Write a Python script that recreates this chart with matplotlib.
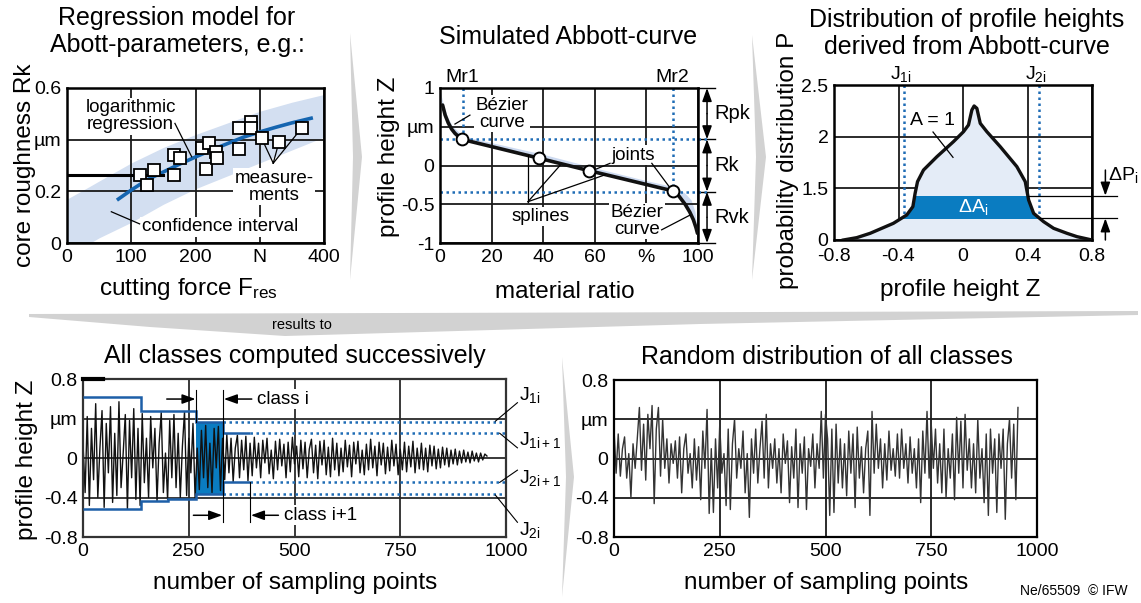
import numpy as np
import matplotlib
matplotlib.use("Agg")
import matplotlib.pyplot as plt
from matplotlib.patches import Polygon, Rectangle

plt.rcParams["font.family"] = ["Liberation Sans", "DejaVu Sans"]
plt.rcParams["mathtext.fontset"] = "custom"
plt.rcParams["mathtext.rm"] = "Liberation Sans"
plt.rcParams["mathtext.it"] = "Liberation Sans:italic"

W, H = 1141, 603
BLUE = "#1f6cb5"
FILLBLUE = "#0a7cc1"
WHITE = dict(fc="white", ec="none", pad=1.0)

# ---- panel 1: regression model Rk(F)
force_meas = [114, 124, 135, 166, 166, 176, 210, 221, 217, 232, 233, 267, 268, 287, 287, 303, 330, 365]
rk_meas = [0.263, 0.225, 0.283, 0.263, 0.341, 0.328, 0.367, 0.388, 0.285, 0.353, 0.328,
           0.444, 0.363, 0.47, 0.444, 0.405, 0.392, 0.444]
force_fit = [80, 100, 125, 150, 175, 200, 225, 250, 275, 300, 325, 350, 380]
rk_fit = [0.17, 0.205, 0.245, 0.275, 0.305, 0.333, 0.36, 0.385, 0.41, 0.43, 0.448, 0.465, 0.483]
force_band = [0, 36, 50, 100, 150, 200, 250, 300, 350, 400]
rk_band_hi = [0.17, 0.22, 0.24, 0.31, 0.37, 0.42, 0.465, 0.51, 0.545, 0.575]
rk_band_lo = [0.0, 0.0, 0.02, 0.08, 0.15, 0.21, 0.26, 0.31, 0.36, 0.41]
force_set, rk_set = 150, 0.263
f_ticks = [0, 100, 200, 300, 400]
f_labels = ["0", "100", "200", "N", "400"]
rk_ticks = [0, 0.2, 0.4, 0.6]
rk_labels = ["0", "0.2", "µm", "0.6"]

# ---- panel 2: simulated Abbott curve
ratio_curve = [1.0, 2.0, 3.2, 4.5, 5.8, 7.3, 8.4, 20, 38.5, 57.8, 75, 90.4, 92.5, 95, 96.8, 98.2, 99.2, 99.8]
z_curve = [0.78, 0.65, 0.55, 0.47, 0.415, 0.37, 0.338, 0.244, 0.093, -0.067, -0.205, -0.329,
           -0.39, -0.5, -0.6, -0.7, -0.8, -0.875]
ratio_meas = [0, 0.5, 1.5, 3, 5, 8, 12, 20, 40, 60, 80, 88, 92, 95, 97.5, 99, 99.7, 100]
z_meas = [1.0, 0.92, 0.78, 0.63, 0.5, 0.41, 0.35, 0.29, 0.14, -0.035, -0.2, -0.26, -0.3,
          -0.36, -0.45, -0.6, -0.8, -1.0]
ratio_joints = [8.4, 38.5, 57.8, 90.4]
z_joints = [0.338, 0.093, -0.067, -0.329]
mr1, mr2 = 8.8, 90.2
rk_top, rk_bot = 0.338, -0.338
ratio_ticks = [0, 20, 40, 60, 80, 100]
ratio_labels = ["0", "20", "40", "60", "%", "100"]
z_ticks = [-1, -0.5, 0, 0.5, 1]
z_labels = ["-1", "-0.5", "0", "µm", "1"]

# ---- panel 3: distribution of profile heights
height_z = [-0.742, -0.659, -0.576, -0.432, -0.349, -0.311, -0.297, -0.282, -0.245, -0.162, -0.059,
            0.003, 0.034, 0.055, 0.069, 0.086, 0.107, 0.148, 0.231, 0.334, 0.386, 0.407, 0.438,
            0.5, 0.562, 0.645, 0.707, 0.8]
prob_p = [0, 0.068, 0.194, 0.484, 0.726, 0.968, 1.355, 1.565, 1.677, 1.806, 1.952, 2.048, 2.113,
          2.258, 2.297, 2.274, 2.129, 2.048, 1.903, 1.71, 1.565, 1.161, 0.774, 0.532, 0.339,
          0.194, 0.097, 0]
j1i, j2i = -0.363, 0.471
band_lo, band_hi = 0.629, 1.287
hz_ticks = [-0.8, -0.4, 0, 0.4, 0.8]
hz_labels = ["-0.8", "-0.4", "0", "0.4", "0.8"]
p_ticks = [0, 1.5, 2, 2.5]

# ---- panel 4: classes computed successively (step 5 sampling points)
profile_classes = [
    0.15, -0.35, 0.42, -0.48, 0.30, -0.22, 0.55, -0.40, 0.10, 0.48, -0.50, 0.35, -0.15, 0.52,
    -0.45, 0.25, -0.38, 0.57, -0.30, 0.05, 0.44, -0.52, 0.38, -0.20, 0.50, -0.42, 0.30,
    -0.48, 0.45, -0.25, 0.20, -0.40, 0.42, -0.10, 0.30, -0.44, 0.15, 0.46, -0.35, 0.05, -0.42,
    0.38, -0.20, 0.44, -0.30, 0.25, -0.40, 0.12, 0.47, -0.38, 0.20, -0.15, 0.35, -0.41,
    0.10, -0.32, 0.28, -0.20, 0.33, -0.30, 0.15, -0.35, 0.30, -0.10, 0.32, -0.33, 0.20,
    -0.22, 0.24, -0.15, 0.20, -0.24, 0.10, 0.23, -0.20, 0.18, -0.12, 0.22, -0.23, 0.15,
    -0.18, 0.21, -0.10, 0.15, -0.20, 0.18, -0.05, 0.20, -0.16, 0.08, -0.21, 0.17, -0.12, 0.19,
    -0.08, 0.14, -0.20, 0.16, -0.14, 0.21, -0.06, 0.12, -0.19, 0.18, -0.11, 0.16, -0.20, 0.09,
    0.19, -0.15, 0.13, -0.21, 0.17, -0.07, 0.18, -0.17, 0.11, -0.19, 0.20, -0.12,
    0.15, -0.18, 0.10, -0.14, 0.18, -0.09, 0.13, -0.19, 0.16, -0.06, 0.17, -0.15, 0.08, -0.17,
    0.14, -0.12, 0.19, -0.10, 0.12, -0.18, 0.16, -0.07, 0.15, -0.16, 0.11, -0.13, 0.18, -0.08,
    0.14, -0.17, 0.09, -0.12, 0.16, -0.14, 0.12, -0.09, 0.17, -0.15, 0.10, -0.11,
    0.15, -0.12, 0.10, -0.14, 0.13, -0.08, 0.12, -0.11, 0.09, -0.10, 0.11, -0.07, 0.10, -0.09,
    0.08, -0.06, 0.09, -0.07, 0.07, -0.05, 0.08, -0.04, 0.06, -0.05, 0.07, -0.03, 0.05, -0.04,
    0.05, -0.02, 0.04, 0.02,
]
class_edges = [0, 137, 202, 268, 331, 395]
class_top = [0.617, 0.481, 0.481, 0.363, 0.251]
class_bot = [-0.519, -0.434, -0.417, -0.366, -0.247]
j1, j1_next, j2_next, j2 = 0.363, 0.251, -0.247, -0.366
s_ticks = [0, 250, 500, 750, 1000]
zz_ticks = [-0.8, -0.4, 0, 0.4, 0.8]
zz_labels = ["-0.8", "-0.4", "0", "µm", "0.8"]

# ---- panel 5: random distribution of all classes
profile_random = [
    0.30, -0.15, 0.25, -0.18, 0.10, 0.22, -0.20, 0.05, -0.40, 0.15, -0.10, 0.20, 0.52, -0.12,
    0.35, -0.22, 0.45, 0.10, 0.54, -0.46, 0.30, 0.52, -0.18, 0.40,
    -0.10, 0.20, -0.25, 0.15, -0.05, 0.18, -0.20, 0.22, -0.35, 0.10, 0.25, -0.15, 0.05, -0.30,
    0.20, -0.22, 0.12, -0.42, 0.28, -0.10, 0.50, -0.56, 0.10, -0.55,
    0.20, -0.30, 0.35, -0.15, 0.05, -0.48, 0.30, -0.52, 0.15, 0.40, -0.20, 0.10, -0.10, 0.28,
    -0.35, 0.05, -0.60, 0.20, -0.15, 0.30, -0.25, 0.10, 0.38, -0.20,
    0.45, -0.30, 0.15, -0.10, 0.20, -0.25, 0.10, -0.35, 0.25, -0.05, 0.18, -0.45, 0.12, -0.20,
    0.30, -0.50, 0.15, -0.15, 0.22, -0.52, 0.10, -0.08, 0.25, -0.30,
    0.15, -0.10, 0.48, -0.20, 0.45, 0.20, -0.58, 0.30, -0.55, 0.35, -0.25, 0.20, -0.30, 0.15,
    -0.38, 0.28, -0.15, 0.25, -0.50, 0.32, -0.20, 0.12, -0.35, 0.10,
    0.28, -0.58, 0.48, -0.15, 0.35, -0.10, 0.20, -0.30, 0.15, -0.22, 0.28, -0.12, 0.10, -0.18,
    0.25, -0.20, 0.30, -0.10, 0.15, -0.25, 0.22, -0.15, 0.10, -0.30,
    0.20, -0.45, 0.28, -0.15, 0.48, -0.20, 0.35, -0.10, 0.30, -0.25, 0.15, -0.35, 0.30, -0.40,
    0.10, -0.20, 0.25, -0.42, 0.42, -0.15, 0.38, -0.30, 0.45, -0.12,
    0.20, -0.30, 0.15, -0.35, 0.40, -0.20, 0.10, -0.45, 0.25, -0.58, 0.30, -0.15, 0.20, -0.55,
    0.25, -0.10, 0.30, -0.62, 0.15, 0.40, -0.20, 0.35, -0.42, 0.52,
]
SAMPLE_STEP = 5


def box(x0, y0, x1, y1):
    return [x0 / W, 1 - y1 / H, (x1 - x0) / W, (y1 - y0) / H]


def ftext(x, y, s, **kw):
    kw.setdefault("ha", "center")
    kw.setdefault("va", "center")
    fig.text(x / W, 1 - y / H, s, **kw)


def style(ax, lw=1.8, grid="#1a1a1a"):
    for sp in ax.spines.values():
        sp.set_linewidth(lw)
    ax.tick_params(length=0, labelsize=14, pad=4)
    ax.grid(True, color=grid, lw=1.3)
    ax.set_axisbelow(True)


def arrow(ax, start, end, **kw):
    props = dict(arrowstyle="-|>,head_length=0.5,head_width=0.18", color="k", lw=1.1,
                 shrinkA=0, shrinkB=0, mutation_scale=16)
    props.update(kw)
    ax.annotate("", xy=end, xytext=start, arrowprops=props, annotation_clip=False, zorder=6)


fig = plt.figure(figsize=(W / 100, H / 100), dpi=100)

# background chevrons / band
ov = fig.add_axes([0, 0, 1, 1], zorder=-1)
ov.set_xlim(0, W)
ov.set_ylim(H, 0)
ov.axis("off")
for pts in ([(350, 33), (362, 157), (350, 280), (353, 157)],
            [(752, 35), (766, 157), (752, 280), (756, 157)],
            [(562, 357), (574, 477), (562, 597), (566, 477)],
            [(29, 314), (1138, 311), (1138, 315), (700, 324), (285, 336), (150, 327), (29, 317)]):
    ov.add_patch(Polygon(pts, closed=True, fc="#d2d2d2", ec="none"))
ftext(302, 325, "results to", fontsize=10.5)

# ---------------- panel 1
ax1 = fig.add_axes(box(67, 88, 324, 243))
ax1.fill_between(force_band, rk_band_lo, rk_band_hi, color="#d3dff1", lw=0, zorder=0.2)
ax1.plot(force_fit, rk_fit, color="#1565b0", lw=2.6, zorder=3)
ax1.plot([0, force_set], [rk_set, rk_set], color="k", lw=2.2, zorder=3)
ax1.plot(force_meas, rk_meas, "s", ms=8.5, mfc="white", mec="k", mew=1.3, zorder=5)
ax1.set_xlim(0, 400)
ax1.set_ylim(0, 0.6)
ax1.set_xticks(f_ticks, f_labels)
ax1.set_yticks(rk_ticks, rk_labels)
style(ax1)
ax1.text(99, 0.49, "logarithmic\nregression", ha="center", va="center", fontsize=13.5,
         linespacing=1.0, bbox=WHITE, zorder=4)
ax1.plot([168, 194], [0.463, 0.334], color="k", lw=0.9, zorder=4)
ax1.text(322, 0.218, "measure-\nments", ha="center", va="center", fontsize=13.5,
         linespacing=1.0, bbox=WHITE, zorder=4)
for k in (15, 16, 17):
    ax1.plot([321, force_meas[k]], [0.309, rk_meas[k]], color="k", lw=0.9, zorder=4)
ax1.text(238, 0.063, "confidence interval", ha="center", va="center", fontsize=13.5,
         bbox=WHITE, zorder=4)
ax1.plot([113, 69], [0.074, 0.121], color="k", lw=0.9, zorder=4)
ftext(177, 18, "Regression model for", fontsize=18)
ftext(177, 45, "Abott-parameters, e.g.:", fontsize=18)
ftext(25, 165, "core roughness Rk", fontsize=17.5, rotation=90)
ftext(188, 289, r"cutting force F$_\mathrm{res}$", fontsize=17.5)

# ---------------- panel 2
ax2 = fig.add_axes(box(440, 88, 698, 243))
shade = list(zip(ratio_meas, z_meas)) + list(zip(ratio_curve[::-1], z_curve[::-1]))
ax2.add_patch(Polygon(shade, closed=True, fc="#cddaf0", ec="none", zorder=0.2))
ax2.plot(ratio_curve, z_curve, color="#111111", lw=2.6, solid_capstyle="round", zorder=3)
ax2.plot(ratio_joints, z_joints, "o", ms=8.5, mfc="white", mec="k", mew=1.4, zorder=5)
dots = dict(color=BLUE, lw=1.8, ls=(0, (1, 1.4)), zorder=2.5)
ax2.plot([mr1, mr1], [1, rk_top], **dots)
ax2.plot([mr2, mr2], [1, rk_bot], **dots)
ax2.plot([0, 103.5], [rk_top, rk_top], clip_on=False, **dots)
ax2.plot([0, 103.5], [rk_bot, rk_bot], clip_on=False, **dots)
ax2.set_xlim(0, 100)
ax2.set_ylim(-1, 1)
ax2.set_xticks(ratio_ticks, ratio_labels)
ax2.set_yticks(z_ticks, z_labels)
style(ax2)
for zl in (1, rk_top, rk_bot, -1):
    ax2.plot([100.5, 106.5], [zl, zl], color="k", lw=1.0, clip_on=False)
for a, b, lab in ((1, rk_top, "Rpk"), (rk_top, rk_bot, "Rk"), (rk_bot, -1, "Rvk")):
    arrow(ax2, (103.5, (a + b) / 2), (103.5, a))
    arrow(ax2, (103.5, (a + b) / 2), (103.5, b))
    ax2.text(106.5, (a + b) / 2, lab, ha="left", va="center", fontsize=14.5)
tx2 = ax2.get_xaxis_transform()
ax2.text(mr1, 1.07, "Mr1", transform=tx2, ha="center", va="center", fontsize=14)
ax2.text(mr2, 1.07, "Mr2", transform=tx2, ha="center", va="center", fontsize=14)
ax2.text(24, 0.67, "Bézier\ncurve", ha="center", va="center", fontsize=13.5, linespacing=1.0,
         bbox=WHITE, zorder=4)
ax2.plot([11.6, 5.8], [0.65, 0.535], color="k", lw=0.9, zorder=4)
ax2.text(75, 0.135, "joints", ha="center", va="center", fontsize=13.5, bbox=WHITE, zorder=4)
ax2.plot([65.9, ratio_joints[2] + 1.2], [0.028, z_joints[2]], color="k", lw=0.9, zorder=4)
ax2.plot([82.1, ratio_joints[3] - 1.0], [0.028, z_joints[3] + 0.03], color="k", lw=0.9, zorder=4)
ax2.text(38.8, -0.66, "splines", ha="center", va="center", fontsize=13.5, bbox=WHITE, zorder=4)
for sx, sz in ((34.1, 0.135), (46.5, -0.0), (64.0, -0.12)):
    ax2.plot([34.1, sx], [-0.467, sz], color="k", lw=0.9, zorder=4)
ax2.text(76.4, -0.716, "Bézier\ncurve", ha="center", va="center", fontsize=13.5,
         linespacing=1.0, bbox=WHITE, zorder=4)
ax2.plot([85.9, 96.9], [-0.83, -0.64], color="k", lw=0.9, zorder=4)
ftext(568, 37, "Simulated Abbott-curve", fontsize=18)
ftext(389, 157, "profile height Z", fontsize=17.5, rotation=90)
ftext(565, 292, "material ratio", fontsize=17.5)

# ---------------- panel 3
ax3 = fig.add_axes(box(834, 85, 1092, 240))


def p_fwd(p):
    p = np.asarray(p, dtype=float)
    return np.where(p < 1.5, p / 1.5, (p - 1.5) * 2 + 1)


def p_inv(u):
    u = np.asarray(u, dtype=float)
    return np.where(u < 1, u * 1.5, (u - 1) / 2 + 1.5)


ax3.set_yscale("function", functions=(p_fwd, p_inv))
ax3.fill_between(height_z, 0, prob_p, color="#e4ecf7", lw=0, zorder=1)
band = ax3.fill_between(height_z, 0, prob_p, color=FILLBLUE, lw=0, zorder=1.5)
band.set_clip_path(Rectangle((-0.8, band_lo), 1.6, band_hi - band_lo, transform=ax3.transData))
ax3.plot(height_z, prob_p, color="#111111", lw=2.4, zorder=3)
peak = int(np.argmax(prob_p))
right_x = np.array(height_z[peak:])[::-1]
right_p = np.array(prob_p[peak:])[::-1]
for lvl in (band_lo, band_hi):
    ax3.plot([np.interp(lvl, right_p, right_x), 0.955], [lvl, lvl], color="k", lw=0.9,
             clip_on=False, zorder=3)
for jx in (j1i, j2i):
    ax3.plot([jx, jx], [2.5, np.interp(jx, height_z, prob_p)], **dots)
ax3.set_xlim(-0.8, 0.8)
ax3.set_ylim(0, 2.5)
ax3.set_xticks(hz_ticks, hz_labels)
ax3.set_yticks(p_ticks, ["0", "1.5", "2", "2.5"])
ax3.yaxis.set_minor_locator(matplotlib.ticker.NullLocator())
style(ax3)
ax3.tick_params(axis="x", pad=6)
arrow(ax3, (0.883, 1.677), (0.883, band_hi))
arrow(ax3, (0.883, 0.0), (0.883, band_lo))
ax3.text(0.9, 1.63, r"ΔP$_\mathrm{i}$", ha="left", va="center", fontsize=14)
ax3.text(0.062, 0.957, r"ΔA$_\mathrm{i}$", ha="center", va="center", fontsize=14,
         color="white", zorder=4)
ax3.text(-0.33, 2.16, "A = 1", ha="left", va="center", fontsize=14, zorder=4)
ax3.plot([-0.186, -0.062], [2.045, 1.80], color="k", lw=0.9, zorder=4)
tx3 = ax3.get_xaxis_transform()
ax3.text(j1i - 0.02, 1.07, r"J$_\mathrm{1i}$", transform=tx3, ha="center", va="center", fontsize=14)
ax3.text(j2i - 0.02, 1.07, r"J$_\mathrm{2i}$", transform=tx3, ha="center", va="center", fontsize=14)
ftext(967, 20, "Distribution of profile heights", fontsize=18)
ftext(967, 47, "derived from Abbott-curve", fontsize=18)
ftext(788, 160, "probability distribution P", fontsize=17.5, rotation=90)
ftext(960, 290, "profile height Z", fontsize=17.5)

# ---------------- panel 4
ax4 = fig.add_axes(box(83, 379, 506, 537))
x4 = np.arange(len(profile_classes)) * SAMPLE_STEP
ax4.fill_between(class_edges[3:5], class_bot[3], class_top[3], color=FILLBLUE, lw=0, zorder=1)
ax4.plot(x4, profile_classes, color="#111111", lw=1.0, zorder=2)
ax4.stairs(class_top, class_edges, baseline=None, color="#1d5fa8", lw=1.8, zorder=3)
ax4.stairs(class_bot, class_edges, baseline=None, color="#1d5fa8", lw=1.8, zorder=3)
ax4.plot([class_edges[4], 1000], [j1, j1], clip_on=False, **dots)
ax4.plot([class_edges[4], 1000], [j2, j2], clip_on=False, **dots)
ax4.plot([class_edges[5], 1000], [j1_next, j1_next], clip_on=False, **dots)
ax4.plot([class_edges[5], 1000], [j2_next, j2_next], clip_on=False, **dots)
ax4.plot([class_edges[3], class_edges[3]], [0.69, class_top[3]], color="k", lw=0.8, zorder=4)
ax4.plot([class_edges[4], class_edges[4]], [0.69, -0.647], color="k", lw=0.8, zorder=4)
ax4.plot([class_edges[5], class_edges[5]], [class_bot[4], -0.647], color="k", lw=0.8, zorder=4)
ax4.plot([0, 48], [0.8, 0.8], color="k", lw=3, clip_on=False, zorder=5)
arrow(ax4, (198, 0.597), (class_edges[3] - 2, 0.597))
arrow(ax4, (399, 0.597), (class_edges[4] + 2, 0.597))
ax4.text(411, 0.597, "class i", ha="left", va="center", fontsize=13.5, bbox=WHITE, zorder=4)
arrow(ax4, (261, -0.58), (class_edges[4] - 2, -0.58))
arrow(ax4, (462, -0.58), (class_edges[5] + 2, -0.58))
ax4.text(474, -0.58, "class i+1", ha="left", va="center", fontsize=13.5, bbox=WHITE, zorder=4)
ax4.set_xlim(0, 1000)
ax4.set_ylim(-0.8, 0.8)
ax4.set_xticks(s_ticks, [str(t) for t in s_ticks])
ax4.set_yticks(zz_ticks, zz_labels)
style(ax4, lw=1.6, grid="#2a2a2a")
for sp in ax4.spines.values():
    sp.set_color("#333333")
for lab, ly, tip in ((r"J$_\mathrm{1i}$", 0.64, (975, j1 + 0.01)),
                     (r"J$_\mathrm{1i+1}$", 0.183, (985, j1_next)),
                     (r"J$_\mathrm{2i+1}$", -0.203, (985, j2_next)),
                     (r"J$_\mathrm{2i}$", -0.731, (975, j2 - 0.01))):
    ax4.text(1030, ly, lab, ha="left", va="center", fontsize=14, clip_on=False)
    ax4.plot([1027, tip[0]], [ly - np.sign(ly) * 0.08, tip[1]], color="k", lw=0.8,
             clip_on=False, zorder=4)
ftext(295, 356, "All classes computed successively", fontsize=18)
ftext(27, 460, "profile height Z", fontsize=17.5, rotation=90)
ftext(295, 583, "number of sampling points", fontsize=17.5)

# ---------------- panel 5
ax5 = fig.add_axes(box(614, 380, 1037, 537))
x5 = np.arange(len(profile_random)) * SAMPLE_STEP
ax5.plot(x5, profile_random, color="#333333", lw=1.0, zorder=2)
ax5.set_xlim(0, 1000)
ax5.set_ylim(-0.8, 0.8)
ax5.set_xticks(s_ticks, [str(t) for t in s_ticks])
ax5.set_yticks(zz_ticks, zz_labels)
style(ax5, lw=1.6)
ftext(827, 357, "Random distribution of all classes", fontsize=18)
ftext(826, 583, "number of sampling points", fontsize=17.5)
ftext(1128, 591, "Ne/65509  © IFW", fontsize=10, ha="right")

fig.savefig("out.png", dpi=100)
